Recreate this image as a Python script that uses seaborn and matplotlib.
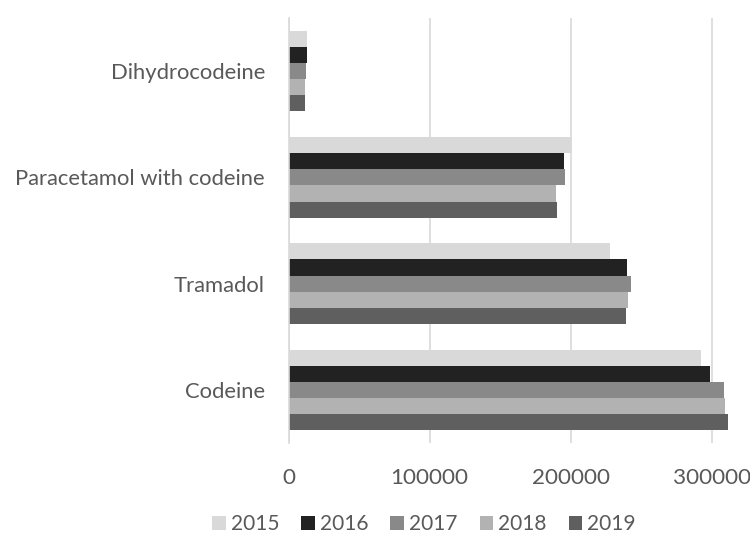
import numpy as np
import pandas as pd
import seaborn as sns
import matplotlib.pyplot as plt

drugs = ['Dihydrocodeine', 'Paracetamol with codeine', 'Tramadol', 'Codeine']
years = ['2015', '2016', '2017', '2018', '2019']
# 每年各药物数值 (按 drugs 顺序)
v2015 = [13100, 200800, 228000, 292300]
v2016 = [13000, 195600, 240100, 298700]
v2017 = [12400, 195900, 243100, 308400]
v2018 = [11500, 189700, 240800, 309300]
v2019 = [11500, 190400, 239100, 311500]
colors = ['#d9d9d9', '#222222', '#898989', '#b2b2b2', '#5f5f5f']

rows = []
for yr, vals in zip(years, [v2015, v2016, v2017, v2018, v2019]):
    for d, v in zip(drugs, vals):
        rows.append({'drug': d, 'year': yr, 'value': v})
df = pd.DataFrame(rows)

sns.set_style('white')
plt.rcParams['font.family'] = ['Lato', 'DejaVu Sans']
plt.rcParams['xtick.major.pad'] = 18
plt.rcParams['ytick.major.pad'] = 17

fig = plt.figure(figsize=(7.5, 5.33), dpi=100)
ax = fig.add_axes([288.5 / 750, 1 - 443 / 533, (740 - 288.5) / 750, (443 - 18) / 533])
sns.barplot(data=df, x='value', y='drug', hue='year', order=drugs, hue_order=years,
            palette=colors, orient='h', width=0.76, ax=ax, saturation=1, linewidth=0)

ax.set_xlim(0, 320000)
ax.set_xticks([0, 100000, 200000, 300000])
ax.set_xticklabels(['0', '100000', '200000', '300000'])
ax.xaxis.grid(True, color='#d9d9d9', linewidth=1.2)
ax.set_axisbelow(True)
for s in ['top', 'right', 'bottom']:
    ax.spines[s].set_visible(False)
ax.spines['left'].set_color('#d9d9d9')
ax.spines['left'].set_linewidth(1.2)
ax.set_xlabel('')
ax.set_ylabel('')
ax.tick_params(axis='y', which='both', length=0, labelsize=15.8, labelcolor='#595959', pad=17)
ax.tick_params(axis='x', which='both', length=0, labelsize=16.2, labelcolor='#595959', pad=18)

ax.legend(loc='center', bbox_to_anchor=(424 / 750, 1 - 524 / 533), bbox_transform=fig.transFigure,
          ncol=5, frameon=False, fontsize=15, handlelength=0.65, handleheight=0.65,
          handletextpad=0.25, columnspacing=1.05, labelcolor='#595959')

fig.savefig('out.png', dpi=100)
